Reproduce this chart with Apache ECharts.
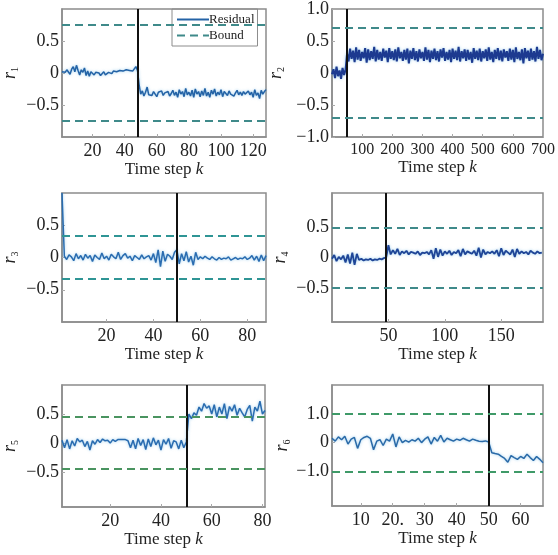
<!DOCTYPE html>
<html><head><meta charset="utf-8">
<script src="https://cdn.jsdelivr.net/npm/echarts@6/dist/echarts.min.js"></script>
<style>html,body{margin:0;padding:0;background:#fff}#c{width:558px;height:555px}</style>
</head><body><div id="c"></div>
<script>
// ---------- data ----------
const r1 = [
 0.02, 0.04, 0.01, 0.05, 0.03,-0.02, 0.06, 0.10, 0.02, 0.12,
 0.04,-0.03, 0.05, 0.01, 0.08,-0.04, 0.03,-0.05, 0.02, 0.00,
-0.03, 0.01,-0.02, 0.00,-0.04,-0.01, 0.02,-0.03, 0.00, 0.01,
 0.02,-0.01, 0.03, 0.06, 0.02, 0.00, 0.04, 0.01, 0.03, 0.00,
 0.05, 0.02, 0.04, 0.07, 0.03, 0.06, 0.10, 0.04,
-0.18,-0.33,-0.28,-0.36,-0.30,-0.22,-0.34,-0.31,-0.35,-0.29,
-0.32,-0.37,-0.30,-0.33,-0.28,-0.35,-0.31,-0.34,-0.29,-0.36,
-0.32,-0.27,-0.35,-0.30,-0.38,-0.26,-0.33,-0.29,-0.37,-0.24,
-0.34,-0.30,-0.36,-0.27,-0.38,-0.25,-0.33,-0.29,-0.37,-0.28,
-0.35,-0.24,-0.36,-0.30,-0.38,-0.27,-0.33,-0.25,-0.36,-0.30,
-0.34,-0.26,-0.37,-0.29,-0.32,-0.35,-0.28,-0.33,-0.30,-0.36,
-0.31,-0.27,-0.34,-0.30,-0.35,-0.29,-0.33,-0.31,-0.28,-0.34,
-0.30,-0.38,-0.26,-0.35,-0.31,-0.40,-0.27,-0.33,-0.29,-0.26];
const r2 = [
-0.02, 0.06,-0.08, 0.10,-0.05, 0.04,-0.09, 0.08,-0.03, 0.05,
 0.30, 0.18, 0.38, 0.22, 0.35, 0.17, 0.40, 0.21, 0.36, 0.19,
 0.33, 0.23, 0.39, 0.16, 0.37, 0.20, 0.34, 0.22, 0.41, 0.18,
 0.36, 0.21, 0.33, 0.19, 0.38, 0.24, 0.35, 0.17, 0.39, 0.22,
 0.34, 0.20, 0.37, 0.18, 0.40, 0.23, 0.33, 0.19, 0.36, 0.21,
 0.38, 0.15, 0.35, 0.22, 0.39, 0.20, 0.34, 0.18, 0.37, 0.23,
 0.33, 0.19, 0.40, 0.21, 0.36, 0.17, 0.35, 0.22, 0.38, 0.20,
 0.34, 0.18, 0.37, 0.24, 0.39, 0.19, 0.33, 0.21, 0.36, 0.17,
 0.38, 0.22, 0.35, 0.20, 0.41, 0.18, 0.34, 0.23, 0.37, 0.19,
 0.36, 0.21, 0.33, 0.16, 0.39, 0.22, 0.35, 0.20, 0.38, 0.18,
 0.34, 0.23, 0.37, 0.19, 0.40, 0.21, 0.33, 0.17, 0.36, 0.22,
 0.39, 0.20, 0.35, 0.18, 0.37, 0.24, 0.34, 0.19, 0.38, 0.21,
 0.36, 0.17, 0.40, 0.22, 0.33, 0.20, 0.37, 0.15, 0.39, 0.23,
 0.35, 0.19, 0.38, 0.21, 0.34, 0.18, 0.41, 0.22, 0.36, 0.20, 0.30];
const r3 = [
 1.00, 0.02,-0.03, 0.04, 0.01,-0.05, 0.06,-0.02, 0.03,-0.04,
 0.05,-0.01, 0.03,-0.06, 0.04, 0.00,-0.03, 0.07,-0.02, 0.02,
-0.04, 0.05, 0.01,-0.02, 0.08,-0.03, 0.03, 0.06,-0.01, 0.02,
-0.05, 0.03, 0.00,-0.03, 0.04,-0.02, 0.01, 0.03,-0.04, 0.06,
-0.08, 0.12,-0.14, 0.10,-0.06, 0.05, 0.02,-0.03, 0.08, 0.12,
-0.10, 0.06,-0.05, 0.09,-0.07, 0.02,-0.12, 0.08,-0.03, 0.01,
-0.02, 0.02,-0.01,-0.03, 0.01,-0.02,-0.04, 0.00,-0.03,-0.01,
-0.02, 0.01,-0.04,-0.02, 0.00,-0.03,-0.01,-0.02, 0.01,-0.03,
-0.01, 0.03,-0.04, 0.02,-0.06, 0.04,-0.05, 0.03];
const r4 = [
-0.02, 0.04,-0.06, 0.01,-0.03, 0.03,-0.08, 0.05,-0.10, 0.08,
-0.12, 0.06,-0.04,-0.02,-0.05,-0.03,-0.04,-0.02,-0.05,-0.03,
-0.04,-0.02,-0.03,-0.01,
 0.00, 0.20, 0.05, 0.12, 0.06, 0.14, 0.04, 0.10, 0.07, 0.11,
 0.05, 0.09, 0.08, 0.06, 0.10, 0.04, 0.08, 0.07, 0.09, 0.05,
 0.12,-0.02, 0.15, 0.01, 0.13, 0.03, 0.10, 0.06, 0.11, 0.04,
 0.09, 0.07, 0.12, 0.02, 0.14, 0.05, 0.10, 0.08, 0.06, 0.11,
 0.03, 0.16, 0.00, 0.13, 0.05, 0.09, 0.07, 0.10, 0.06, 0.12,
 0.02, 0.15, 0.04, 0.11, 0.08, 0.05, 0.13, 0.01, 0.14, 0.06,
 0.10, 0.07, 0.09, 0.05, 0.11, 0.08, 0.06, 0.10, 0.07, 0.08];
const r5 = [
 0.05,-0.08, 0.06,-0.10, 0.04,-0.05, 0.08, 0.02, 0.05,-0.06,
 0.03,-0.12, 0.04,-0.02, 0.06, 0.01, 0.07, 0.04, 0.05, 0.00,
 0.06, 0.03, 0.06, 0.06, 0.06, 0.06, 0.04,-0.08, 0.05,-0.10,
 0.08,-0.04, 0.06,-0.11, 0.07,-0.06, 0.09,-0.03, 0.05,-0.12,
 0.06,-0.02, 0.08,-0.09, 0.04, 0.02,-0.10, 0.05,-0.08, 0.02,
 0.50, 0.42, 0.52, 0.48, 0.62, 0.55, 0.68, 0.60, 0.64, 0.50,
 0.66, 0.45, 0.62, 0.50, 0.68, 0.42, 0.63, 0.55, 0.66, 0.48,
 0.60, 0.52, 0.45, 0.58, 0.65, 0.38, 0.62, 0.55, 0.72, 0.50, 0.56];
const r6 = [
 0.15, 0.05, 0.20, 0.10, 0.22,-0.05, 0.12, 0.18,-0.20, 0.10,
 0.18, 0.22, 0.15,-0.25, 0.05, 0.10,-0.10, 0.12, 0.05, 0.30,
-0.15, 0.20, 0.00, 0.08, 0.02, 0.10, 0.05, 0.15, 0.00, 0.12,
 0.20,-0.05, 0.18, 0.05, 0.25, 0.02, 0.15, 0.10, 0.05, 0.12,
 0.08, 0.15, 0.10, 0.05, 0.12, 0.08, 0.05, 0.04, 0.06, 0.02,
-0.35,-0.38,-0.40,-0.48,-0.55,-0.68,-0.45,-0.52,-0.58,-0.48,
-0.55,-0.40,-0.52,-0.62,-0.48,-0.58,-0.70];

// time axis: first step and step size of each residual array
const kStart = [1, 0, 1, 0, 1, 1];
const kStep  = [1, 5, 1, 2, 1, 1];
const xRange = [[1,128],[0,700],[1,88],[0,187],[1,81],[1,67]];
const xTicks = [[20,40,60,80,100,120],[100,200,300,400,500,600,700],[20,40,60,80],[50,100,150],[20,40,60,80],[10,20,30,40,50,60]];
const xTickText = [null,null,null,null,null,{20:'20.'}];
const yRange = [[-1,1],[-1,1],[-1,1],[-1.05,1.05],[-1.1,1],[-2.2,2.0]];
const yTicks = [[-0.5,0,0.5],[-1,-0.5,0,0.5,1],[-0.5,0,0.5],[-0.5,0,0.5],[-0.5,0,0.5],[-1,0,1]];
const faultK = [48, 50, 50, 48, 50, 50];
const bound  = [0.75, 0.70, 0.33, 0.49, 0.45, 1.0];
const residuals = [r1, r2, r3, r4, r5, r6];

// ---------- layout / style ----------
const FONT = '"Liberation Serif","DejaVu Serif",serif';
const boxes = [
  {left:53, top:9,   width:213, height:128},
  {left:332,top:9,   width:211, height:128},
  {left:53, top:193, width:213, height:129},
  {left:332,top:193, width:211, height:129},
  {left:53, top:385, width:212, height:122},
  {left:332,top:385, width:211, height:121}];
const resColor = ['#2463a6','#1d3a90','#2a6cb0','#1f4597','#2a6cb0','#2a6aa8'];
const resWidth = [1.5, 2, 1.5, 1.8, 1.5, 1.5];
const bndColor = ['#3f8a8a','#3f8a8a','#2f9595','#3f8a8a','#4a9460','#3f9a68'];
const yNameGap = [42, 46, 42, 42, 42, 40];
const xLabelSize = [18, 16, 18, 18, 18, 18];

function fmtY(v){ if (v === 0) return '0'; const s = Math.abs(v).toFixed(1); return (v<0?'\u2212':'') + s; }

const grids=[], xAxes=[], yAxes=[], series=[];
for (let i=0;i<6;i++){
  grids.push(Object.assign({show:true, borderColor:'#8c8c8c', borderWidth:1.5, backgroundColor:'#fff'}, boxes[i]));
  const tt = xTickText[i];
  xAxes.push({type:'value', gridIndex:i, min:xRange[i][0], max:xRange[i][1],
    axisLine:{show:true, onZero:false, lineStyle:{color:'#8c8c8c', width:1.5}},
    axisTick:{show:true, inside:true, length:3, customValues:xTicks[i], lineStyle:{color:'#aaa'}},
    splitLine:{show:false},
    axisLabel:{customValues:xTicks[i], color:'#222', fontFamily:FONT, fontSize:xLabelSize[i], margin:5,
      formatter: v => (tt && tt[v]) ? tt[v] : String(v)},
    name:'{a|Time step }{k|k}', nameLocation:'middle', nameGap:21,
    nameTextStyle:{rich:{a:{fontFamily:FONT, fontSize:17, color:'#222'}, k:{fontFamily:FONT, fontSize:17, fontStyle:'italic', color:'#222'}}}
  });
  yAxes.push({type:'value', gridIndex:i, min:yRange[i][0], max:yRange[i][1],
    axisLine:{show:true, onZero:false, lineStyle:{color:'#8c8c8c', width:1.5}},
    axisTick:{show:true, inside:true, length:3, customValues:yTicks[i], lineStyle:{color:'#aaa'}},
    splitLine:{show:false},
    axisLabel:{customValues:yTicks[i], color:'#222', fontFamily:FONT, fontSize:18, margin:3, formatter:fmtY},
    name:'{r|r}{s|'+(i+1)+'}', nameLocation:'middle', nameGap:yNameGap[i], nameRotate:90,
    nameTextStyle:{rich:{r:{fontFamily:FONT, fontSize:18, fontStyle:'italic', color:'#222', lineHeight:20},
                         s:{fontFamily:FONT, fontSize:10, color:'#222', verticalAlign:'bottom', padding:[9,0,0,0]}}}
  });
  const data = residuals[i].map((v,j)=>[kStart[i]+j*kStep[i], v]);
  series.push({name:'Residual', type:'line', xAxisIndex:i, yAxisIndex:i, data, symbol:'none', z:3,
    lineStyle:{color:resColor[i], width:resWidth[i], shadowColor:'rgba(70,160,220,0.55)', shadowBlur:3},
    itemStyle:{color:'#1f6f86'},
    markLine:{silent:true, symbol:'none', label:{show:false}, animation:false,
      lineStyle:{color:'#111', width:2, type:'solid'}, data:[{xAxis:faultK[i]}]}
  });
  series.push({name:'Bound', type:'line', xAxisIndex:i, yAxisIndex:i, data:[], symbol:'none', z:2,
    lineStyle:{color:bndColor[i], width:2, type:[8,5]}, itemStyle:{color:bndColor[i]},
    markLine:{silent:true, symbol:'none', label:{show:false}, animation:false,
      lineStyle:{color:bndColor[i], width:2, type:[8,5]}, data:[{yAxis:bound[i]},{yAxis:-bound[i]}]}
  });
}

const chart = echarts.init(document.getElementById('c'), null, {renderer:'canvas'});
chart.setOption({
  animation:false, backgroundColor:'#fff',
  grid:grids, xAxis:xAxes, yAxis:yAxes, series,
  legend:{data:['Residual','Bound'], orient:'vertical', left:172, top:9, itemWidth:32, itemHeight:10, itemGap:3,
    padding:[4,3,4,4], borderColor:'#8c8c8c', borderWidth:1, selectedMode:false,
    itemStyle:{opacity:0},
    textStyle:{fontFamily:FONT, fontSize:13, color:'#222', padding:[0,0,0,-5]}}
});
</script></body></html>
